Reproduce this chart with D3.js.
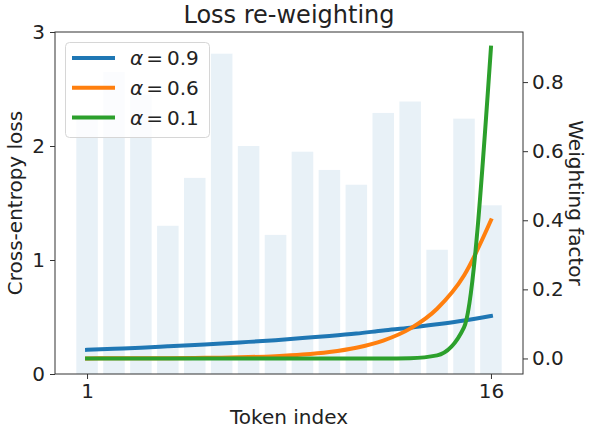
<!DOCTYPE html>
<html>
<head>
<meta charset="utf-8">
<script src="https://cdn.jsdelivr.net/npm/d3@7"></script>
<style>
  body { margin: 0; background: #fff; }
  text { font-family: "DejaVu Sans", sans-serif; fill: #222; }
</style>
</head>
<body>
<script>
// token positions and per-token loss (bars)
var tokens = [1, 2, 3, 4, 5, 6, 7, 8, 9, 10, 11, 12, 13, 14, 15, 16];
var losses = [2.25, 2.65, 2.45, 1.30, 1.72, 2.81, 2.00, 1.22, 1.95, 1.79, 1.66, 2.29, 2.39, 1.09, 2.24, 1.48];

// weighting factor for each alpha
var w09 = [0.025, 0.028, 0.031, 0.035, 0.039, 0.043, 0.048, 0.053, 0.059, 0.065, 0.072, 0.081, 0.089, 0.099, 0.110, 0.123];
var w06 = [0.0002, 0.0003, 0.0005, 0.0009, 0.0015, 0.0024, 0.0040, 0.0067, 0.0112, 0.0187, 0.0311, 0.0518, 0.0864, 0.144, 0.240, 0.400];
var w01 = [0, 0, 0, 0, 0, 0, 0, 0, 0, 0, 0, 0, 0.0009, 0.009, 0.090, 0.900];

var seriesNames = ["0.9", "0.6", "0.1"];
var seriesColors = ["#1f77b4", "#ff7f0e", "#2ca02c"];
var seriesValues = [w09, w06, w01];

var leftTicks = [0, 1, 2, 3];
var rightTicks = [0.0, 0.2, 0.4, 0.6, 0.8];
var xTicks = [1, 16];

var W = 589, H = 429;
var plot = { left: 55, right: 523, top: 32, bottom: 374 };

var svg = d3.select('body').append('svg').attr("width", W).attr("height", H);

var x = d3.scaleLinear().domain([-0.19, 17.19]).range([plot.left, plot.right]);
var yl = d3.scaleLinear().domain([0, 3]).range([plot.bottom, plot.top]);
var yr = d3.scaleLinear().domain([-0.045, 0.945]).range([plot.bottom, plot.top]);

// bars
svg.selectAll('rect.bar')
    .data(losses)
    .enter()
    .append('rect')
    .attr("class", "bar")
    .attr("x", function(d, i) { return x(tokens[i] - 0.4); })
    .attr("width", x(0.8) - x(0))
    .attr("y", function(d) { return yl(d); })
    .attr("height", function(d) { return yl(0) - yl(d); })
    .style("fill", "#1f77b4")
    .style("fill-opacity", 0.1);

// lines
var line = d3.line()
    .x(function(d, i) { return x(tokens[i]); })
    .y(function(d) { return yr(d); })
    .curve(d3.curveMonotoneX);

svg.selectAll('path.wline')
    .data(seriesValues)
    .enter()
    .append('path')
    .attr("class", "wline")
    .attr("d", line)
    .style("fill", "none")
    .style("stroke", function(d, i) { return seriesColors[i]; })
    .style("stroke-width", 4)
    .style("stroke-linecap", "square");

// axes
function styleAxis(g) {
    g.selectAll("text").style("font-size", "20px").style("font-family", '"DejaVu Sans", sans-serif').attr("fill", "#222");
    g.selectAll("line").attr("stroke", "#333");
    g.select(".domain").remove();
}

svg.append("g")
    .attr("transform", "translate(0," + plot.bottom + ")")
    .call(d3.axisBottom(x).tickValues(xTicks).tickSize(5).tickPadding(5).tickFormat(d3.format("d")))
    .call(styleAxis);

svg.append("g")
    .attr("transform", "translate(" + plot.left + ",0)")
    .call(d3.axisLeft(yl).tickValues(leftTicks).tickSize(5).tickPadding(5).tickFormat(d3.format("d")))
    .call(styleAxis);

svg.append("g")
    .attr("transform", "translate(" + plot.right + ",0)")
    .call(d3.axisRight(yr).tickValues(rightTicks).tickSize(5).tickPadding(4).tickFormat(d3.format(".1f")))
    .call(styleAxis);

// frame
svg.append("rect")
    .attr("x", plot.left).attr("y", plot.top)
    .attr("width", plot.right - plot.left).attr("height", plot.bottom - plot.top)
    .style("fill", "none").style("stroke", "#333").style("stroke-width", 1);

// labels
svg.append("text")
    .attr("x", (plot.left + plot.right) / 2).attr("y", 23)
    .attr("text-anchor", "middle").style("font-size", "24px")
    .text("Loss re-weighting");

svg.append("text")
    .attr("x", (plot.left + plot.right) / 2).attr("y", 424)
    .attr("text-anchor", "middle").style("font-size", "20px")
    .text("Token index");

svg.append("text")
    .attr("transform", "translate(22," + (plot.top + plot.bottom) / 2 + ") rotate(-90)")
    .attr("text-anchor", "middle").style("font-size", "20px")
    .text("Cross-entropy loss");

svg.append("text")
    .attr("transform", "translate(569," + (plot.top + plot.bottom) / 2 + ") rotate(90)")
    .attr("text-anchor", "middle").style("font-size", "20px")
    .text("Weighting factor");

// legend
var legend = svg.append("g").attr("transform", "translate(65,42)");
legend.append("rect")
    .attr("x", 0.5).attr("y", 0.5).attr("width", 144).attr("height", 95)
    .attr("rx", 4).attr("ry", 4)
    .style("fill", "#fff").style("fill-opacity", 0.8)
    .style("stroke", "#d6d6d6").style("stroke-width", 1);

var items = legend.selectAll("g.item")
    .data(seriesNames)
    .enter()
    .append("g")
    .attr("class", "item")
    .attr("transform", function(d, i) { return "translate(0," + (16 + i * 29.8) + ")"; });

items.append("line")
    .attr("x1", 7).attr("x2", 50).attr("y1", 0).attr("y2", 0)
    .style("stroke", function(d, i) { return seriesColors[i]; })
    .style("stroke-width", 4);

var lt = items.append("text")
    .attr("x", 65).attr("y", 7)
    .style("font-size", "20px");
lt.append("tspan").style("font-style", "italic").text("\u03b1");
lt.append("tspan").attr("dx", 3).text("=");
lt.append("tspan").attr("dx", 4).text(function(d) { return d; });
</script>
</body>
</html>
